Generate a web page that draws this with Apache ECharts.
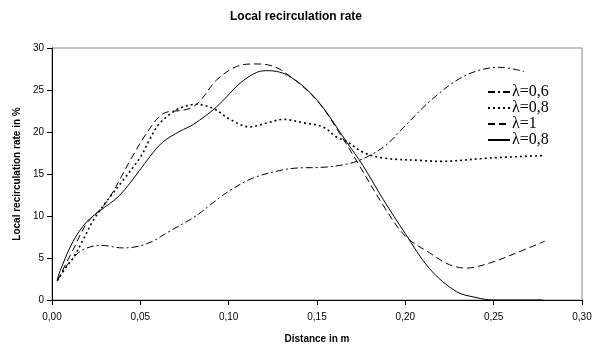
<!DOCTYPE html>
<html>
<head>
<meta charset="utf-8">
<script src="https://cdn.jsdelivr.net/npm/echarts@6/dist/echarts.min.js"></script>
<style>
  html, body { margin: 0; padding: 0; background: #fff; }
  #chart { width: 592px; height: 345px; }
</style>
</head>
<body>
<div id="chart"></div>
<script>
// Series data: [distance in m, rate in %]
const seriesNames = ['l06', 'l08a', 'l1', 'l08b'];
const legendLabels = ['λ=0,6', 'λ=0,8', 'λ=1', 'λ=0,8'];

const lambda06 = [
  [0.003, 2.3], [0.0102, 4.6], [0.0177, 6.0], [0.028, 6.5], [0.040, 6.2],
  [0.049, 6.4], [0.057, 7.0], [0.065, 8.0], [0.0815, 10.0], [0.090, 11.4],
  [0.1004, 13.0], [0.1136, 14.5], [0.1286, 15.4], [0.138, 15.7], [0.1534, 15.8],
  [0.165, 16.1], [0.1723, 16.5], [0.1817, 17.4], [0.19, 18.6], [0.197, 20.1],
  [0.2157, 24.0], [0.2347, 26.8], [0.2536, 27.7], [0.2672, 27.2]
];
const lambda08dot = [
  [0.003, 2.3], [0.008, 3.9], [0.012, 5.0], [0.0177, 7.2], [0.0234, 9.5],
  [0.03, 11.5], [0.04, 14.2], [0.05, 17.0], [0.0555, 19.2], [0.06, 20.8],
  [0.066, 22.0], [0.072, 22.8], [0.0815, 23.3], [0.0913, 22.8], [0.1008, 21.5],
  [0.112, 20.6], [0.122, 21.1], [0.131, 21.5], [0.1423, 21.1], [0.1534, 20.6],
  [0.161, 19.4], [0.1666, 18.9], [0.176, 17.6], [0.1874, 16.9], [0.21, 16.6],
  [0.219, 16.5], [0.2477, 16.9], [0.279, 17.2]
];
const lambda1 = [
  [0.003, 2.3], [0.012, 6.0], [0.0196, 9.1], [0.0307, 11.6], [0.0458, 17.2],
  [0.055, 20.3], [0.063, 22.2], [0.0743, 22.6], [0.08, 23.0], [0.085, 24.0],
  [0.0932, 26.2], [0.1045, 27.8], [0.1149, 28.1], [0.122, 28.0], [0.131, 27.2],
  [0.1498, 23.8], [0.1647, 19.2], [0.174, 16.0], [0.1874, 11.3], [0.2, 7.6],
  [0.2138, 5.6], [0.225, 4.2], [0.2345, 3.8], [0.2477, 4.4], [0.2628, 5.6],
  [0.2789, 7.0]
];
const lambda08solid = [
  [0.003, 2.5], [0.005, 3.7], [0.012, 7.0], [0.0196, 9.3], [0.027, 10.6],
  [0.038, 12.4], [0.0495, 15.4], [0.0555, 17.1], [0.0627, 18.8], [0.0725, 20.1],
  [0.08, 20.9], [0.0932, 23.0], [0.1064, 25.8], [0.1159, 27.1], [0.1224, 27.3],
  [0.1347, 26.6], [0.150, 23.8], [0.1668, 18.8], [0.176, 16.0], [0.1874, 12.0],
  [0.2, 7.9], [0.2138, 3.7], [0.2289, 1.0], [0.24, 0.3], [0.25, 0], [0.278, 0]
];

const chart = echarts.init(document.getElementById('chart'));

const lineSeries = (name, data, type, width) => ({
  name, type: 'line', data,
  smooth: 0.35, showSymbol: false, symbol: 'none',
  lineStyle: { color: '#000', width, type },
  itemStyle: { color: '#000' },
  animation: false,
});

chart.setOption({
  animation: false,
  title: {
    text: 'Local recirculation rate',
    left: 'center', top: 6,
    textStyle: { fontFamily: 'Liberation Sans', fontSize: 12, fontWeight: 'bold', color: '#000' },
  },
  grid: {
    left: 52, right: 10, top: 48, bottom: 45,
    outerBoundsMode: 'none',
    show: true, borderColor: '#888', borderWidth: 1,
  },
  legend: {
    orient: 'vertical', left: 482, top: 79,
    itemWidth: 22, itemHeight: 10, itemGap: 0,
    data: seriesNames,
    itemStyle: { opacity: 0 },
    formatter: (n) => legendLabels[seriesNames.indexOf(n)],
    textStyle: { fontFamily: 'Liberation Serif', fontSize: 16, color: '#000', padding: [0, 0, 0, -3] },
  },
  xAxis: {
    type: 'value', min: 0, max: 0.3, interval: 0.05,
    name: 'Distance in m', nameLocation: 'middle', nameGap: 34,
    nameTextStyle: { fontFamily: 'Liberation Sans', fontSize: 10, fontWeight: 'bold', color: '#000' },
    axisLine: { show: true, lineStyle: { color: '#000' } },
    axisTick: { show: true, length: 5, lineStyle: { color: '#000' } },
    axisLabel: {
      fontFamily: 'Liberation Sans', fontSize: 10, color: '#000', margin: 12,
      formatter: (v) => v.toFixed(2).replace('.', ','),
    },
    splitLine: { show: false },
  },
  yAxis: {
    type: 'value', min: 0, max: 30, interval: 5,
    name: 'Local recirculation rate in %', nameLocation: 'middle', nameGap: 30,
    nameTextStyle: { fontFamily: 'Liberation Sans', fontSize: 10, fontWeight: 'bold', color: '#000' },
    axisLine: { show: true, lineStyle: { color: '#000' } },
    axisTick: { show: true, length: 5, lineStyle: { color: '#000' } },
    axisLabel: { fontFamily: 'Liberation Sans', fontSize: 10, color: '#000', margin: 8 },
    splitLine: { show: false },
  },
  series: [
    lineSeries(seriesNames[0], lambda06, [7, 3, 2, 3], 1),
    lineSeries(seriesNames[1], lambda08dot, [2, 3], 1.6),
    lineSeries(seriesNames[2], lambda1, [7, 4], 1),
    lineSeries(seriesNames[3], lambda08solid, 'solid', 1),
  ],
});
</script>
</body>
</html>
